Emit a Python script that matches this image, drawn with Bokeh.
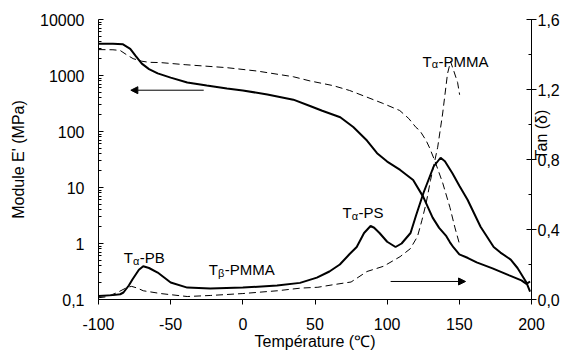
import math
from bokeh.plotting import figure
from bokeh.models import (Range1d, LinearAxis, LinearScale, FixedTicker, CustomJSTickFormatter,
                          Label, Arrow, NormalHead)
from bokeh.embed import file_html
from bokeh.resources import INLINE

# ---------------- data ----------------
# Storage modulus E' (MPa), solid sample
e_solid_T = [-100, -90, -83, -78, -74, -70, -65, -59, -50, -38.5, -25, -11, 0, 17, 35,
             47, 55, 67.5, 76.5, 86, 93, 100, 109, 118, 125, 131.5, 136, 141,
             143.5, 146, 150, 156, 162, 173, 184.6, 193, 196.5, 199]
e_solid_E = [3700, 3700, 3600, 3000, 2200, 1630, 1300, 1090, 915, 750, 660, 586, 540, 458, 370,
             283, 235, 180, 120, 69, 41, 29, 20.6, 13.6, 6.8, 2.9, 1.9, 1.35,
             1.05, 0.85, 0.64, 0.55, 0.46, 0.36, 0.27, 0.22, 0.19, 0.21]
# Storage modulus E' (MPa), dashed sample
e_dash_T = [-100, -90, -85, -80, -76, -70, -65, -57, -40, -11, 10, 35, 46.5, 62.5, 74,
            85, 97, 108.7, 115, 120, 122.5, 127, 129.4, 133, 138.5, 143.5, 147, 150]
e_dash_E = [2900, 2880, 2800, 2300, 2000, 1800, 1720, 1700, 1560, 1380, 1200, 950, 800, 660, 540,
            420, 318, 237, 170, 118, 105, 69, 51, 30, 12, 4.4, 1.9, 1.0]
# tan(delta), solid sample
t_solid_T = [-100, -90, -85, -82.7, -79, -76.5, -72, -69, -65, -59, -50, -38.5, -22.6, 0,
             23.7, 39.6, 51.3, 60, 67.2, 74, 78.9, 84, 88.5, 91, 94.7, 100, 105.8, 110,
             116.2, 120, 125.2, 132.2, 137, 140, 145.3, 150, 155.7, 164.7, 173.8, 178.5,
             185.6, 190.3, 196.5, 199]
t_solid_tan = [0.02, 0.025, 0.03, 0.04, 0.08, 0.114, 0.17, 0.19, 0.18, 0.154, 0.097, 0.068, 0.063, 0.068,
               0.08, 0.095, 0.125, 0.16, 0.2, 0.26, 0.3, 0.38, 0.42, 0.41, 0.38, 0.33, 0.30, 0.32,
               0.38, 0.48, 0.61, 0.76, 0.81, 0.79, 0.72, 0.65, 0.57, 0.416, 0.30, 0.268,
               0.228, 0.18, 0.097, 0.045]
# tan(delta), dashed sample
t_dash_T = [-100, -95, -90, -86.9, -80, -77, -73, -69, -57, -38.5, -22.6, 0, 24, 40, 52,
            63, 75, 86, 97.5, 109, 116, 121, 124, 127, 130, 135, 138.4, 141.8, 143.9,
            146, 148.8, 150.2]
t_dash_tan = [0.01, 0.015, 0.03, 0.04, 0.07, 0.075, 0.065, 0.05, 0.034, 0.017, 0.023, 0.034, 0.05, 0.065, 0.07,
              0.085, 0.10, 0.16, 0.19, 0.245, 0.29, 0.36, 0.45, 0.55, 0.68, 0.87, 1.06, 1.29, 1.36,
              1.31, 1.24, 1.17]

x_ticks = [-100, -50, 0, 50, 100, 150, 200]
e_ticks = [0.1, 1, 10, 100, 1000, 10000]
tan_ticks = [0.0, 0.4, 0.8, 1.2, 1.6]
tan_minor = [0.2, 0.6, 1.0, 1.4]

ann_main = ["T", "T", "T", "T"]
ann_sub = ["α", "β", "α", "α"]
ann_tail = ["-PB", "-PMMA", "-PS", "-PMMA"]
ann_x = [-82.5, -23.6, 69.1, 124.5]     # left edge (°C)
ann_y = [0.239, 0.171, 0.495, 1.361]    # baseline (tan δ units)

arrow_left = dict(x0=-27.1, x1=-77.6, y=546)       # E' axis
arrow_right = dict(x0=102.4, x1=154.3, y=0.103)    # tan δ axis

FONT = "Liberation Sans"

p = figure(width=566, height=352, x_range=Range1d(-100, 200), y_range=Range1d(0.1, 10000),
           y_axis_type="log", output_backend="svg", toolbar_location=None,
           min_border_left=98, min_border_right=35, min_border_top=19, min_border_bottom=52,
           background_fill_color="white", border_fill_color="white")
p.outline_line_color = None
p.xgrid.visible = False
p.ygrid.visible = False
p.extra_y_ranges = {"tan": Range1d(0, 1.6)}
p.extra_y_scales = {"tan": LinearScale()}

# lines
p.line(e_solid_T, e_solid_E, line_color="black", line_width=2)
p.line(e_dash_T, e_dash_E, line_color="black", line_width=1, line_dash="7 4")
p.line(t_solid_T, t_solid_tan, line_color="black", line_width=2, y_range_name="tan")
p.line(t_dash_T, t_dash_tan, line_color="black", line_width=1, line_dash="7 4", y_range_name="tan")

# x axis
xa = p.xaxis[0]
xa.ticker = FixedTicker(ticks=x_ticks)
xa.formatter = CustomJSTickFormatter(code="return tick.toFixed(0);")
xa.axis_label = "Température (℃)"
xa.major_tick_in = 0
xa.major_tick_out = 5
xa.minor_tick_line_color = None
xa.major_label_standoff = 13
xa.axis_label_standoff = 0

# left axis
ya = p.yaxis[0]
minor = [k * 10 ** e for e in range(-1, 4) for k in range(2, 10)]
ya.ticker = FixedTicker(ticks=e_ticks, minor_ticks=minor)
ya.formatter = CustomJSTickFormatter(code="return tick < 1 ? '0,1' : tick.toFixed(0);")
ya.axis_label = "Module E' (MPa)"
ya.major_tick_in = 5
ya.major_tick_out = 0
ya.minor_tick_in = 3
ya.minor_tick_out = 0
ya.major_label_standoff = 14
ya.axis_label_standoff = 10

# right axis
ra = LinearAxis(y_range_name="tan",
                ticker=FixedTicker(ticks=tan_ticks, minor_ticks=tan_minor),
                formatter=CustomJSTickFormatter(code="return tick.toFixed(1).replace('.', ',');"))
ra.major_tick_in = 5
ra.major_tick_out = 5
ra.minor_tick_in = 3
ra.minor_tick_out = 0
ra.major_label_standoff = 1
p.add_layout(ra, "right")

# second right axis only carrying the title, overlapping the tick labels as in the reference
ta = LinearAxis(y_range_name="tan", bounds=(0.78, 1.40), ticker=FixedTicker(ticks=[]),
                axis_label="Tan (δ)", axis_label_standoff=-21)
ta.axis_label_orientation = math.pi / 2
p.add_layout(ta, "right")

for ax in [xa, ya, ra, ta]:
    ax.axis_line_color = "black" if ax is not ta else None
    ax.major_label_text_font = FONT
    ax.major_label_text_font_size = "16px"
    ax.major_label_text_color = "black"
    ax.axis_label_text_font = FONT
    ax.axis_label_text_font_size = "16px"
    ax.axis_label_text_font_style = "normal"
    ax.axis_label_text_color = "black"
for ax in [xa, ya, ra]:
    ax.major_tick_line_color = "black"
ya.minor_tick_line_color = "black"
ra.minor_tick_line_color = "black"
ta.major_tick_line_color = None
ta.minor_tick_line_color = None

# annotations
PX_PER_DEG = 433.3 / 300.0
PX_PER_TAN = 281.0 / 1.6
for m, s, t, x, y in zip(ann_main, ann_sub, ann_tail, ann_x, ann_y):
    p.add_layout(Label(x=x, y=y, y_range_name="tan", text=m, text_font=FONT,
                       text_font_size="15px", text_baseline="alphabetic", text_color="black"))
    p.add_layout(Label(x=x + 9.3 / PX_PER_DEG, y=y - 3 / PX_PER_TAN, y_range_name="tan", text=s,
                       text_font=FONT, text_font_size="11px", text_baseline="alphabetic",
                       text_color="black"))
    p.add_layout(Label(x=x + 16.0 / PX_PER_DEG, y=y, y_range_name="tan", text=t, text_font=FONT,
                       text_font_size="15px", text_baseline="alphabetic", text_color="black"))

# arrows
p.add_layout(Arrow(end=NormalHead(size=7, fill_color="black", line_color="black"),
                   x_start=arrow_left["x0"], y_start=arrow_left["y"],
                   x_end=arrow_left["x1"], y_end=arrow_left["y"],
                   line_color="black", line_width=1))
p.add_layout(Arrow(end=NormalHead(size=7, fill_color="black", line_color="black"),
                   x_start=arrow_right["x0"], y_start=arrow_right["y"],
                   x_end=arrow_right["x1"], y_end=arrow_right["y"],
                   y_range_name="tan", line_color="black", line_width=1))

open("out.html", "w").write(file_html(p, INLINE))
